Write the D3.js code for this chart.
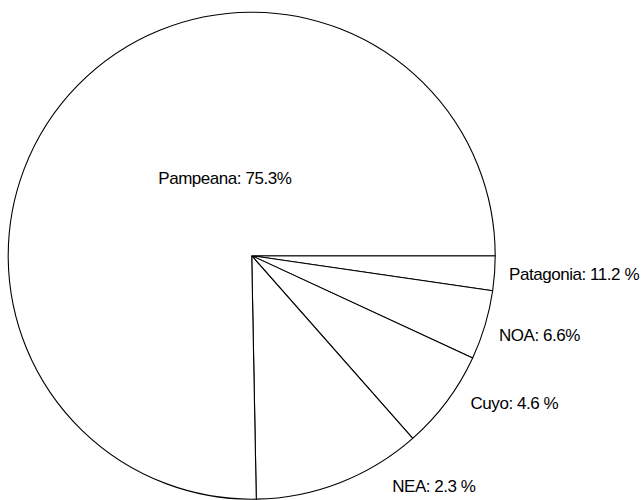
<!DOCTYPE html>
<html>
<head>
    <meta charset="utf-8">
    <title>Pie chart - regiones</title>
    <script src="https://d3js.org/d3.v7.min.js"></script>
    <style>
        body, html {
            margin: 0;
            padding: 0;
            background: #fff;
        }
        .slice-label {
            font-family: 'Liberation Sans', Arial, Helvetica, sans-serif;
            font-size: 17px;
            letter-spacing: -0.45px;
            fill: #000;
        }
    </style>
</head>
<body>
<script>
    // slice values in drawing order (clockwise from 3 o'clock)
    const values = [2.3, 4.6, 6.6, 11.2, 75.3];
    // labels as they appear next to each slice in the picture
    const labels = ["Patagonia: 11.2 %", "NOA: 6.6%", "Cuyo: 4.6 %", "NEA: 2.3 %", "Pampeana: 75.3%"];

    const width = 644, height = 500;
    const cx = 251.7, cy = 255.7, radius = 243.5;
    const labelRadius = 258;

    // hand nudges for labels that were moved off the default spot
    const labelNudge = [[0, 0], [0, 6], [12, -7], [47, -10], [60, 8]];

    const svg = d3.select("body").append("svg")
        .attr("width", width)
        .attr("height", height)
        .attr("viewBox", [0, 0, width, height]);

    const g = svg.append("g")
        .attr("transform", `translate(${cx},${cy})`);

    const pie = d3.pie()
        .sort(null)
        .startAngle(Math.PI / 2)
        .endAngle(Math.PI / 2 + 2 * Math.PI);

    const arcs = pie(values);

    const arc = d3.arc().innerRadius(0).outerRadius(radius);
    const labelArc = d3.arc().innerRadius(labelRadius).outerRadius(labelRadius);

    g.append("g")
        .selectAll("path")
        .data(arcs)
        .join("path")
            .attr("d", arc)
            .attr("fill", "#fff")
            .attr("stroke", "#000")
            .attr("stroke-width", 1.1)
            .attr("stroke-linejoin", "round");

    g.append("g")
        .selectAll("text")
        .data(arcs)
        .join("text")
            .attr("class", "slice-label")
            .attr("text-anchor", (d, i) => i === arcs.length - 1 ? "middle" : "start")
            .attr("dy", "0.35em")
            .attr("transform", (d, i) => {
                // the big slice carries its label inside, the rest outside
                const c = i === arcs.length - 1 ? arc.centroid(d) : labelArc.centroid(d);
                return `translate(${c[0] + labelNudge[i][0]},${c[1] + labelNudge[i][1]})`;
            })
            .text((d, i) => labels[i]);
</script>
</body>
</html>
